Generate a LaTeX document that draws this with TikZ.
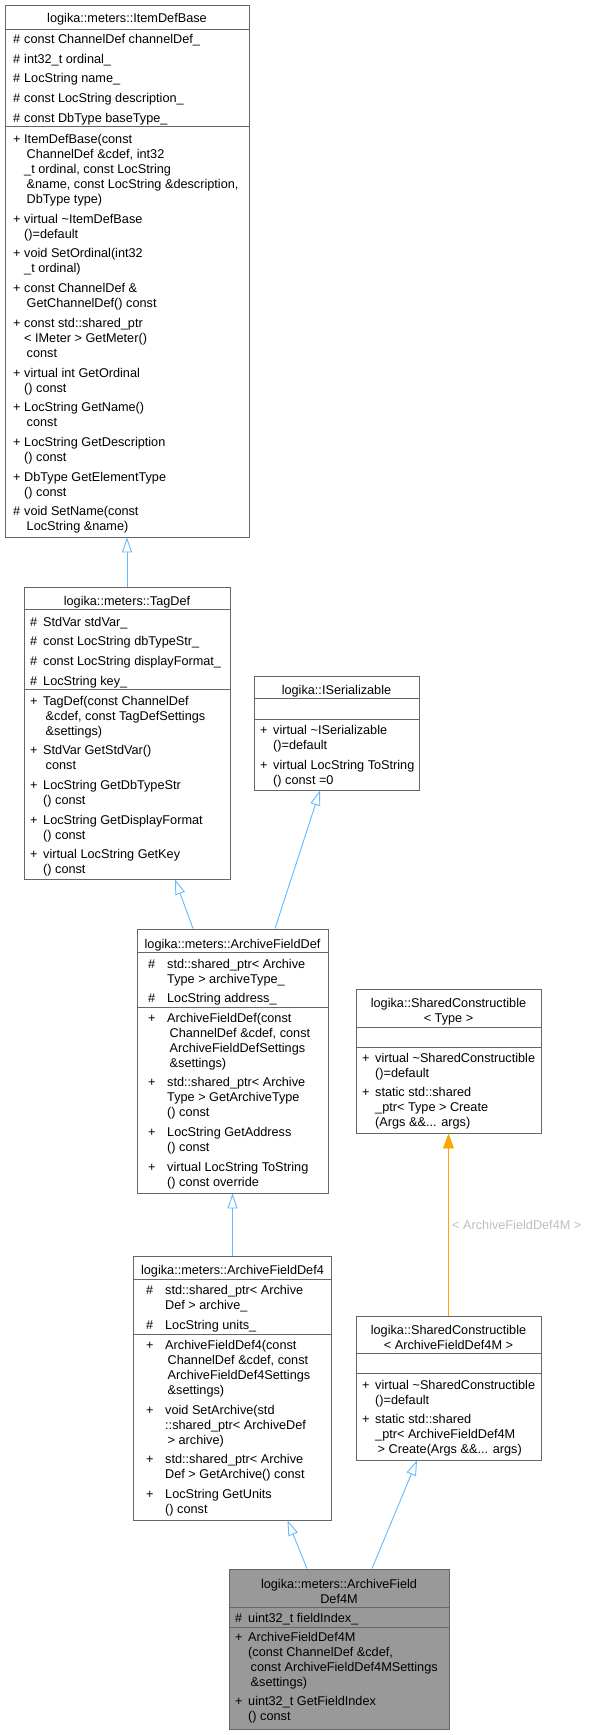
\documentclass[tikz,border=0pt]{standalone}
\usepackage{fontspec}
\setmainfont{Liberation Sans}
\usetikzlibrary{arrows.meta}
\definecolor{boxline}{HTML}{666666}
\definecolor{inhblue}{HTML}{63B8FF}
\definecolor{tmplorange}{HTML}{FFA500}
\definecolor{lblgray}{HTML}{BEBEBE}
\definecolor{leaffill}{HTML}{999999}
\newlength\mkw
\newcommand\pl{\makebox[\mkw][l]{+}}
\newcommand\hs{\makebox[\mkw][l]{\#}}
\newcommand\ind{\hspace{2.5pt}}
\newcommand\gp{\\[4.7pt]}
\tikzset{
  box/.style={draw=boxline, line width=0.9pt, rectangle, inner sep=0pt, fill=white},
  leafbox/.style={box, fill=leaffill},
  sepline/.style={draw=boxline, line width=0.9pt},
  txt/.style={inner sep=0pt, font=\fontsize{12.7}{15}\selectfont},
  ttl/.style={txt, anchor=base},
  mem/.style={txt, anchor=base west},
  inh/.style={draw=inhblue, line width=0.9pt, -{Triangle[length=15pt,width=10pt,fill=white]}},
  tmpl/.style={draw=tmplorange, line width=0.9pt, -{Triangle[length=15pt,width=11pt,fill=tmplorange]}},
  lbl/.style={txt, text=lblgray, anchor=west}
}
\begin{document}
\begin{tikzpicture}[x=1pt,y=-1pt]
\useasboundingbox (0,0) rectangle (589,1735);

% ---------------- ItemDefBase
\node[box, minimum width=244pt, minimum height=532pt] (idb) at (127,271) {};
\draw[sepline] (idb.west |- 0,29) -- (idb.east |- 0,29);
\draw[sepline] (idb.west |- 0,126) -- (idb.east |- 0,126);
\node[ttl] (idbt) at (127,22.5) {logika::meters::ItemDefBase};
\node[mem] (idba) at (13,43.5) {\setlength\mkw{11pt}\begin{tabular}[t]{@{}l@{}l@{}}
\hs & const ChannelDef channelDef\_ \gp
\hs & int32\_t ordinal\_ \gp
\hs & LocString name\_ \gp
\hs & const LocString description\_ \gp
\hs & const DbType baseType\_
\end{tabular}};
\node[mem] (idbm) at (13,143.5) {\setlength\mkw{11pt}\begin{tabular}[t]{@{}l@{}l@{}}
\pl & ItemDefBase(const \\
 & \ind ChannelDef \&cdef, int32 \\
 & \_t ordinal, const LocString \\
 & \ind \&name, const LocString \&description, \\
 & \ind DbType type) \gp
\pl & virtual \textasciitilde ItemDefBase \\
 & ()=default \gp
\pl & void SetOrdinal(int32 \\
 & \_t ordinal) \gp
\pl & const ChannelDef \& \\
 & \ind GetChannelDef() const \gp
\pl & const std::shared\_ptr \\
 & < IMeter > GetMeter() \\
 & \ind const \gp
\pl & virtual int GetOrdinal \\
 & () const \gp
\pl & LocString GetName() \\
 & \ind const \gp
\pl & LocString GetDescription \\
 & () const \gp
\pl & DbType GetElementType \\
 & () const \gp
\hs & void SetName(const \\
 & \ind LocString \&name)
\end{tabular}};

% ---------------- TagDef
\node[box, minimum width=206pt, minimum height=292pt] (tag) at (127,733) {};
\draw[sepline] (tag.west |- 0,609) -- (tag.east |- 0,609);
\draw[sepline] (tag.west |- 0,689) -- (tag.east |- 0,689);
\node[ttl] (tagt) at (127,605) {logika::meters::TagDef};
\node[mem] (taga) at (30,626) {\setlength\mkw{13pt}\begin{tabular}[t]{@{}l@{}l@{}}
\hs & StdVar stdVar\_ \gp
\hs & const LocString dbTypeStr\_ \gp
\hs & const LocString displayFormat\_ \gp
\hs & LocString key\_
\end{tabular}};
\node[mem] (tagm) at (30,705) {\setlength\mkw{13pt}\begin{tabular}[t]{@{}l@{}l@{}}
\pl & TagDef(const ChannelDef \\
 & \ind \&cdef, const TagDefSettings \\
 & \ind \&settings) \gp
\pl & StdVar GetStdVar() \\
 & \ind const \gp
\pl & LocString GetDbTypeStr \\
 & () const \gp
\pl & LocString GetDisplayFormat \\
 & () const \gp
\pl & virtual LocString GetKey \\
 & () const
\end{tabular}};

% ---------------- ISerializable
\node[box, minimum width=165pt, minimum height=114pt] (iser) at (336.5,733) {};
\draw[sepline] (iser.west |- 0,698) -- (iser.east |- 0,698);
\draw[sepline] (iser.west |- 0,719) -- (iser.east |- 0,719);
\node[ttl] (isert) at (336.5,694) {logika::ISerializable};
\node[mem] (iserm) at (260,734.5) {\setlength\mkw{13pt}\begin{tabular}[t]{@{}l@{}l@{}}
\pl & virtual \textasciitilde ISerializable \\
 & ()=default \gp
\pl & virtual LocString ToString \\
 & () const =0
\end{tabular}};

% ---------------- ArchiveFieldDef
\node[box, minimum width=191pt, minimum height=264pt] (afd) at (232.5,1061) {};
\draw[sepline] (afd.west |- 0,952) -- (afd.east |- 0,952);
\draw[sepline] (afd.west |- 0,1007) -- (afd.east |- 0,1007);
\node[ttl] (afdt) at (232.5,948) {logika::meters::ArchiveFieldDef};
\node[mem] (afda) at (148,968) {\setlength\mkw{19pt}\begin{tabular}[t]{@{}l@{}l@{}}
\hs & std::shared\_ptr< Archive \\
 & Type > archiveType\_ \gp
\hs & LocString address\_
\end{tabular}};
\node[mem] (afdm) at (148,1022) {\setlength\mkw{19pt}\begin{tabular}[t]{@{}l@{}l@{}}
\pl & ArchiveFieldDef(const \\
 & \ind ChannelDef \&cdef, const \\
 & \ind ArchiveFieldDefSettings \\
 & \ind \&settings) \gp
\pl & std::shared\_ptr< Archive \\
 & Type > GetArchiveType \\
 & () const \gp
\pl & LocString GetAddress \\
 & () const \gp
\pl & virtual LocString ToString \\
 & () const override
\end{tabular}};

% ---------------- SharedConstructible< Type >
\node[box, minimum width=185pt, minimum height=144pt] (sct) at (448.5,1061) {};
\draw[sepline] (sct.west |- 0,1027) -- (sct.east |- 0,1027);
\draw[sepline] (sct.west |- 0,1047) -- (sct.east |- 0,1047);
\node[ttl] (sctt) at (448.5,1007.2) {\begin{tabular}[t]{@{}c@{}}logika::SharedConstructible\\< Type >\end{tabular}};
\node[mem] (sctm) at (362,1062) {\setlength\mkw{13pt}\begin{tabular}[t]{@{}l@{}l@{}}
\pl & virtual \textasciitilde SharedConstructible \\
 & ()=default \gp
\pl & static std::shared \\
 & \_ptr< Type > Create \\
 & (Args \&\&... args)
\end{tabular}};

% ---------------- ArchiveFieldDef4
\node[box, minimum width=198pt, minimum height=264pt] (afd4) at (232.5,1388) {};
\draw[sepline] (afd4.west |- 0,1279) -- (afd4.east |- 0,1279);
\draw[sepline] (afd4.west |- 0,1334) -- (afd4.east |- 0,1334);
\node[ttl] (afd4t) at (232.5,1274.5) {logika::meters::ArchiveFieldDef4};
\node[mem] (afd4a) at (146,1294.5) {\setlength\mkw{19pt}\begin{tabular}[t]{@{}l@{}l@{}}
\hs & std::shared\_ptr< Archive \\
 & Def > archive\_ \gp
\hs & LocString units\_
\end{tabular}};
\node[mem] (afd4m) at (146,1349.5) {\setlength\mkw{19pt}\begin{tabular}[t]{@{}l@{}l@{}}
\pl & ArchiveFieldDef4(const \\
 & \ind ChannelDef \&cdef, const \\
 & \ind ArchiveFieldDef4Settings \\
 & \ind \&settings) \gp
\pl & void SetArchive(std \\
 & ::shared\_ptr< ArchiveDef \\
 & \ind > archive) \gp
\pl & std::shared\_ptr< Archive \\
 & Def > GetArchive() const \gp
\pl & LocString GetUnits \\
 & () const
\end{tabular}};

% ---------------- SharedConstructible< ArchiveFieldDef4M >
\node[box, minimum width=185pt, minimum height=144pt] (scm) at (448.5,1388) {};
\draw[sepline] (scm.west |- 0,1353) -- (scm.east |- 0,1353);
\draw[sepline] (scm.west |- 0,1373) -- (scm.east |- 0,1373);
\node[ttl] (scmt) at (448.5,1334.5) {\begin{tabular}[t]{@{}c@{}}logika::SharedConstructible\\< ArchiveFieldDef4M >\end{tabular}};
\node[mem] (scmm) at (362,1389) {\setlength\mkw{13pt}\begin{tabular}[t]{@{}l@{}l@{}}
\pl & virtual \textasciitilde SharedConstructible \\
 & ()=default \gp
\pl & static std::shared \\
 & \_ptr< ArchiveFieldDef4M \\
 & \ind > Create(Args \&\&... args)
\end{tabular}};

% ---------------- ArchiveFieldDef4M
\node[leafbox, minimum width=220pt, minimum height=160pt] (leaf) at (339,1649) {};
\draw[sepline] (leaf.west |- 0,1607) -- (leaf.east |- 0,1607);
\draw[sepline] (leaf.west |- 0,1627) -- (leaf.east |- 0,1627);
\node[ttl] (leaft) at (339,1588) {\begin{tabular}[t]{@{}c@{}}logika::meters::ArchiveField\\Def4M\end{tabular}};
\node[mem] (leafa) at (235,1622) {\setlength\mkw{13pt}\begin{tabular}[t]{@{}l@{}l@{}}
\hs & uint32\_t fieldIndex\_
\end{tabular}};
\node[mem] (leafm) at (235,1641) {\setlength\mkw{13pt}\begin{tabular}[t]{@{}l@{}l@{}}
\pl & ArchiveFieldDef4M \\
 & (const ChannelDef \&cdef, \\
 & \ind const ArchiveFieldDef4MSettings \\
 & \ind \&settings) \gp
\pl & uint32\_t GetFieldIndex \\
 & () const
\end{tabular}};

% ---------------- connectors
\draw[inh] (tag.north) -- (idb.south);
\draw[inh] ([xshift=-39.5pt]afd.north) -- ([xshift=48pt]tag.south);
\draw[inh] ([xshift=42.5pt]afd.north) -- ([xshift=-16.5pt]iser.south);
\draw[inh] (afd4.north) -- (afd.south);
\draw[inh] ([xshift=-32pt]leaf.north) -- ([xshift=55pt]afd4.south);
\draw[inh] ([xshift=33pt]leaf.north) -- ([xshift=-31.5pt]scm.south);
\draw[tmpl] (scm.north) -- (sct.south);
\node[lbl] (tlbl) at (452,1225) {< ArchiveFieldDef4M >};
\end{tikzpicture}
\end{document}
